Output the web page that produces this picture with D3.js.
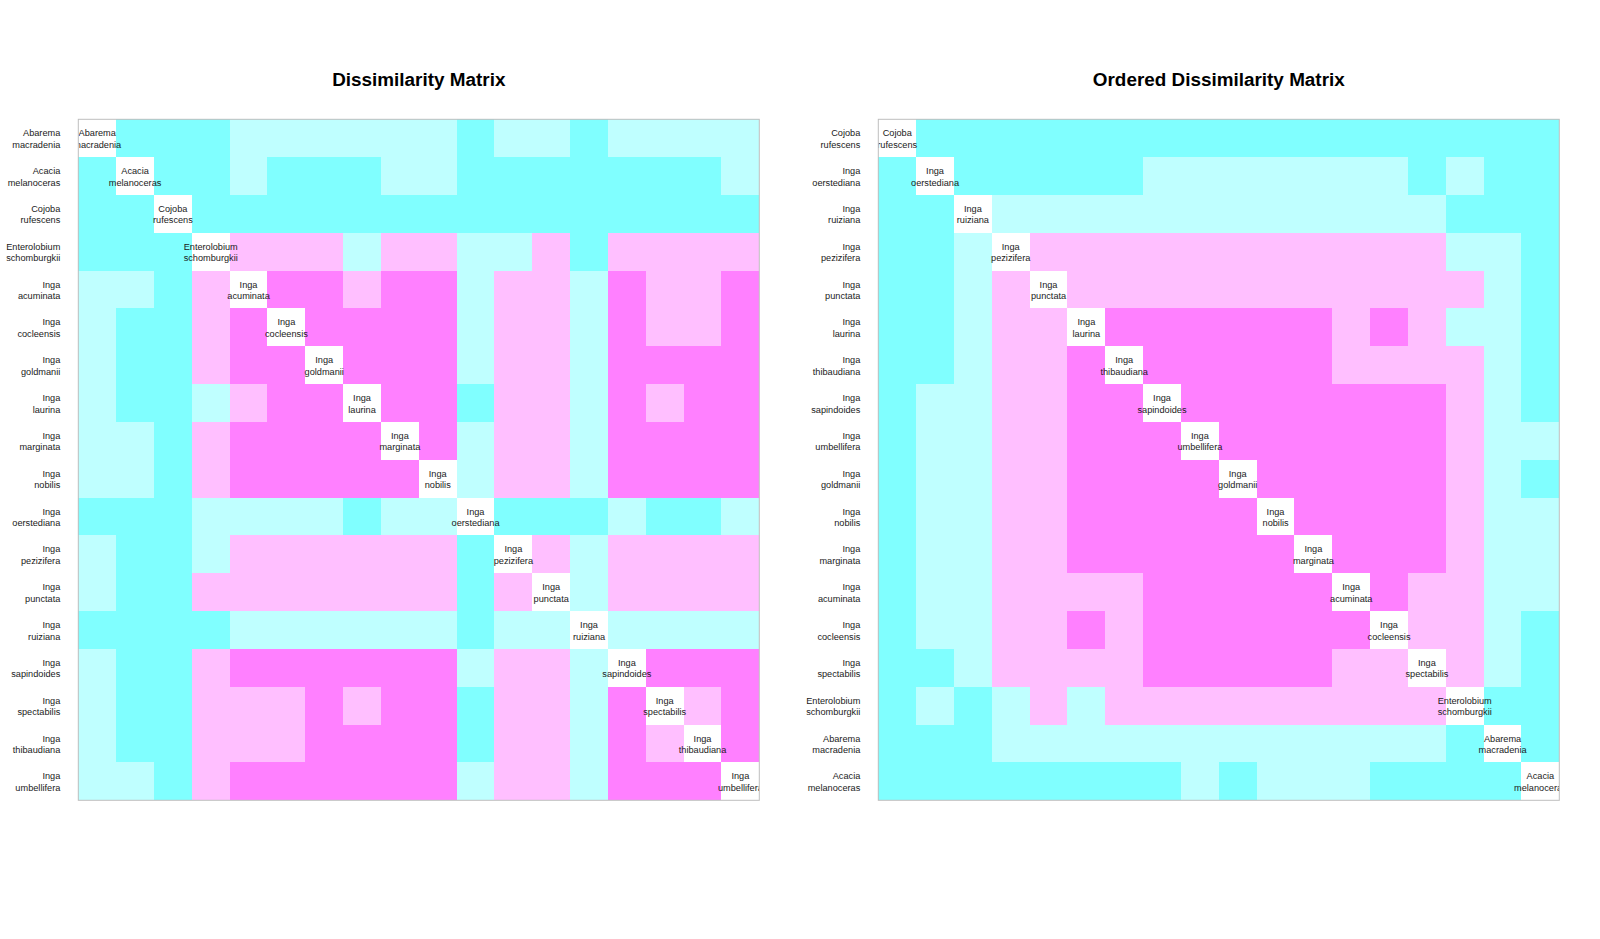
<!DOCTYPE html>
<html>
<head>
<meta charset="utf-8">
<script src="https://cdn.jsdelivr.net/npm/d3@7"></script>
<style>
  html, body { margin: 0; padding: 0; background: #fff; }
  svg { display: block; font-family: "Liberation Sans", Arial, Helvetica, sans-serif; }
</style>
</head>
<body>
<svg id="chart" width="1600" height="939"></svg>
<script>
// ---- data ----
const species = [
  "Abarema macradenia", "Acacia melanoceras", "Cojoba rufescens", "Enterolobium schomburgkii",
  "Inga acuminata", "Inga cocleensis", "Inga goldmanii", "Inga laurina", "Inga marginata",
  "Inga nobilis", "Inga oerstediana", "Inga pezizifera", "Inga punctata", "Inga ruiziana",
  "Inga sapindoides", "Inga spectabilis", "Inga thibaudiana", "Inga umbellifera"
];
// order used in the "Ordered Dissimilarity Matrix" (indices into species)
const orderedIdx = [2, 10, 13, 11, 12, 7, 16, 14, 17, 6, 9, 8, 4, 5, 15, 3, 0, 1];
// dissimilarity class per pair: 0 = most dissimilar ... 3 = most similar, -1 = diagonal
const dissimLevels = [
  [-1,0,0,0,1,1,1,1,1,1,0,1,1,0,1,1,1,1],
  [0,-1,0,0,1,0,0,0,1,1,0,0,0,0,0,0,0,1],
  [0,0,-1,0,0,0,0,0,0,0,0,0,0,0,0,0,0,0],
  [0,0,0,-1,2,2,2,1,2,2,1,1,2,0,2,2,2,2],
  [1,1,0,2,-1,3,3,2,3,3,1,2,2,1,3,2,2,3],
  [1,0,0,2,3,-1,3,3,3,3,1,2,2,1,3,2,2,3],
  [1,0,0,2,3,3,-1,3,3,3,1,2,2,1,3,3,3,3],
  [1,0,0,1,2,3,3,-1,3,3,0,2,2,1,3,2,3,3],
  [1,1,0,2,3,3,3,3,-1,3,1,2,2,1,3,3,3,3],
  [1,1,0,2,3,3,3,3,3,-1,1,2,2,1,3,3,3,3],
  [0,0,0,1,1,1,1,0,1,1,-1,0,0,0,1,0,0,1],
  [1,0,0,1,2,2,2,2,2,2,0,-1,2,1,2,2,2,2],
  [1,0,0,2,2,2,2,2,2,2,0,2,-1,1,2,2,2,2],
  [0,0,0,0,1,1,1,1,1,1,0,1,1,-1,1,1,1,1],
  [1,0,0,2,3,3,3,3,3,3,1,2,2,1,-1,3,3,3],
  [1,0,0,2,2,2,3,2,3,3,0,2,2,1,3,-1,2,3],
  [1,0,0,2,2,2,3,3,3,3,0,2,2,1,3,2,-1,3],
  [1,1,0,2,3,3,3,3,3,3,1,2,2,1,3,3,3,-1]
];
const levelColors = ["#80FFFF", "#BFFFFF", "#FFBFFF", "#FF80FF"];
const panelTitles = ["Dissimilarity Matrix", "Ordered Dissimilarity Matrix"];

// ---- layout ----
const svg = d3.select("#chart");
const size = 681;
const topY = 119.3;
const panelLefts = [78.3, 878.3];
const fontSize = 9.2;
const color = d3.scaleOrdinal().domain([0, 1, 2, 3]).range(levelColors);

function drawPanel(pi, idx) {
  const n = idx.length;
  const g = svg.append("g").attr("transform", `translate(${panelLefts[pi]},${topY})`);
  const x = d3.scaleBand().domain(d3.range(n)).range([0, size]);
  const y = d3.scaleBand().domain(d3.range(n)).range([0, size]);

  const clipId = "clip" + pi;
  g.append("clipPath").attr("id", clipId)
    .append("rect").attr("x", 0).attr("y", 0).attr("width", size).attr("height", size);

  const cells = [];
  for (let i = 0; i < n; i++)
    for (let j = 0; j < n; j++)
      cells.push({ i, j, v: dissimLevels[idx[i]][idx[j]] });

  g.append("g").selectAll("rect").data(cells).join("rect")
    .attr("x", d => x(d.j))
    .attr("y", d => y(d.i))
    .attr("width", x.bandwidth())
    .attr("height", y.bandwidth())
    .attr("shape-rendering", "crispEdges")
    .attr("fill", d => d.v < 0 ? "#ffffff" : color(d.v));

  const lineOffsets = [-1.9, 9.6];

  // row labels on the left
  const rl = g.append("g").selectAll("text").data(idx).join("text")
    .attr("text-anchor", "end")
    .attr("font-size", fontSize)
    .attr("fill", "#1a1a1a");
  rl.each(function (s, i) {
    const parts = species[s].split(" ");
    const cy = y(i) + y.bandwidth() / 2;
    d3.select(this).selectAll("tspan").data(parts).join("tspan")
      .attr("x", -18)
      .attr("y", (p, k) => cy + lineOffsets[k])
      .text(p => p);
  });

  // diagonal labels (clipped to plot area)
  const dl = g.append("g").attr("clip-path", `url(#${clipId})`)
    .selectAll("text").data(idx).join("text")
    .attr("text-anchor", "middle")
    .attr("font-size", fontSize)
    .attr("fill", "#1a1a1a");
  dl.each(function (s, i) {
    const parts = species[s].split(" ");
    const cx = x(i) + x.bandwidth() / 2;
    const cy = y(i) + y.bandwidth() / 2;
    d3.select(this).selectAll("tspan").data(parts).join("tspan")
      .attr("x", cx)
      .attr("y", (p, k) => cy + lineOffsets[k])
      .text(p => p);
  });

  // frame
  g.append("rect")
    .attr("x", 0).attr("y", 0).attr("width", size).attr("height", size)
    .attr("fill", "none").attr("stroke", "#BEBEBE").attr("stroke-width", 1);

  // title
  svg.append("text")
    .attr("x", panelLefts[pi] + size / 2)
    .attr("y", 86)
    .attr("text-anchor", "middle")
    .attr("font-size", 18.9)
    .attr("font-weight", "bold")
    .attr("fill", "#000")
    .text(panelTitles[pi]);
}

drawPanel(0, d3.range(species.length));
drawPanel(1, orderedIdx);
</script>
</body>
</html>
